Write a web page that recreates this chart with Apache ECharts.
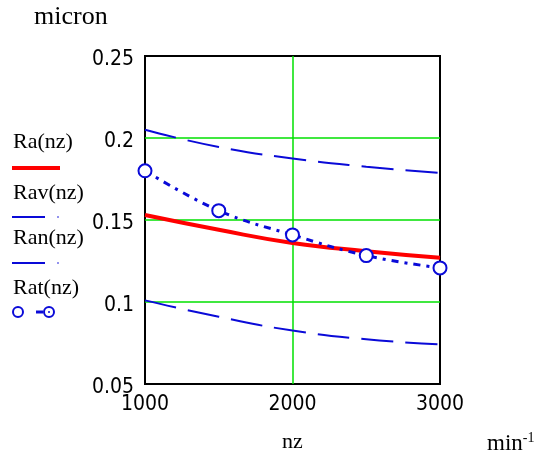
<!DOCTYPE html>
<html>
<head>
<meta charset="utf-8">
<script src="https://cdn.jsdelivr.net/npm/echarts@6/dist/echarts.min.js"></script>
<style>html,body{margin:0;padding:0;background:#fff}#c{width:547px;height:458px}</style>
</head>
<body>
<div id="c"></div>
<script>
const nz = [1000, 1500, 2000, 2500, 3000];
const Ra  = [0.153, 0.144, 0.136, 0.131, 0.127];
const Rav = [0.205, 0.1945, 0.1875, 0.1825, 0.1787];
const Ran = [0.101, 0.091, 0.0826, 0.0773, 0.0741];
const Rat = [0.180, 0.1557, 0.1409, 0.1283, 0.1208];
const legendNames = ['Ra(nz)', 'Rav(nz)', 'Ran(nz)', 'Rat(nz)'];
const yTitle = 'micron';
const xTitle = 'nz';

const pair = arr => nz.map((x, i) => [x, arr[i]]);
const BLUE = '#0a0ad8';
const GREEN = '#00e000';
const tickFont = 'Liberation Sans Narrow, DejaVu Sans Condensed, sans-serif';
const serif = 'Liberation Serif, DejaVu Serif, serif';

const chart = echarts.init(document.getElementById('c'), null, {renderer: 'canvas'});
const legendY = [143, 194, 239, 289];
const graphics = [
  {type: 'text', left: 34, top: 4, style: {text: yTitle, fontFamily: serif, fontSize: 26, fill: '#000'}},
  {type: 'text', left: 487, top: 431, style: {
    text: '{a|min}{b|-1}', fill: '#000',
    rich: {a: {fontFamily: serif, fontSize: 23, fill: '#000'}, b: {fontFamily: serif, fontSize: 14, fill: '#000', verticalAlign: 'top', padding: [0,0,12,0]}}
  }}
];
legendNames.forEach((n, i) => {
  graphics.push({type: 'text', left: 13, top: legendY[i] - 12, style: {text: n, fontFamily: serif, fontSize: 22, fill: '#000'}});
});
graphics.push({type: 'line', shape: {x1: 12, y1: 168, x2: 60, y2: 168}, style: {stroke: '#ff0000', lineWidth: 4}});
graphics.push({type: 'line', shape: {x1: 12, y1: 217, x2: 45, y2: 217}, style: {stroke: BLUE, lineWidth: 2}});
graphics.push({type: 'circle', shape: {cx: 58, cy: 217, r: 0.8}, style: {fill: BLUE}});
graphics.push({type: 'line', shape: {x1: 12, y1: 263, x2: 45, y2: 263}, style: {stroke: BLUE, lineWidth: 2}});
graphics.push({type: 'circle', shape: {cx: 58, cy: 263, r: 0.8}, style: {fill: BLUE}});
graphics.push({type: 'circle', shape: {cx: 18, cy: 312, r: 5}, style: {fill: 'none', stroke: BLUE, lineWidth: 2}});
graphics.push({type: 'line', shape: {x1: 36, y1: 312, x2: 43, y2: 312}, style: {stroke: BLUE, lineWidth: 3}});
graphics.push({type: 'circle', shape: {cx: 49, cy: 312, r: 5}, style: {fill: 'none', stroke: BLUE, lineWidth: 2}});
graphics.push({type: 'circle', shape: {cx: 49, cy: 312, r: 1}, style: {fill: BLUE}});

chart.setOption({
  animation: false,
  backgroundColor: '#fff',
  grid: {left: 145, right: 107, top: 56, bottom: 73, show: true, borderColor: '#000', borderWidth: 2, backgroundColor: 'transparent'},
  xAxis: {
    type: 'value', min: 1000, max: 3000, interval: 1000,
    name: xTitle, nameLocation: 'middle', nameGap: 47,
    nameTextStyle: {fontFamily: serif, fontSize: 22, color: '#000'},
    axisLine: {show: false}, axisTick: {show: false},
    axisLabel: {fontFamily: tickFont, fontSize: 21, color: '#000', margin: 10, formatter: v => String(v)},
    splitLine: {show: true, showMinLine: false, showMaxLine: false, lineStyle: {color: GREEN, width: 1.5}}
  },
  yAxis: {
    type: 'value', min: 0.05, max: 0.25, interval: 0.05,
    axisLine: {show: false}, axisTick: {show: false},
    axisLabel: {color: '#000', margin: 11,
      formatter: v => '{v|' + String(+v.toFixed(2)) + '}',
      rich: {v: {fontFamily: tickFont, fontSize: 21, color: '#000', padding: [8, 0, 0, 0]}}},
    splitLine: {show: true, showMinLine: false, showMaxLine: false, lineStyle: {color: GREEN, width: 1.5}}
  },
  graphic: graphics,
  series: [
    {name: legendNames[0], type: 'line', data: pair(Ra), smooth: true, showSymbol: false,
     lineStyle: {color: '#ff0000', width: 4}},
    {name: legendNames[1], type: 'line', data: pair(Rav), smooth: true, showSymbol: false,
     lineStyle: {color: BLUE, width: 2, type: [32, 12]}},
    {name: legendNames[2], type: 'line', data: pair(Ran), smooth: true, showSymbol: false,
     lineStyle: {color: BLUE, width: 2, type: [32, 12]}},
    {name: legendNames[3], type: 'line', data: pair(Rat), smooth: 0.4,
     symbol: 'emptyCircle', symbolSize: 13, itemStyle: {color: BLUE, borderWidth: 2},
     lineStyle: {color: BLUE, width: 3, type: [7, 6, 3, 6]}}
  ]
});
</script>
</body>
</html>
